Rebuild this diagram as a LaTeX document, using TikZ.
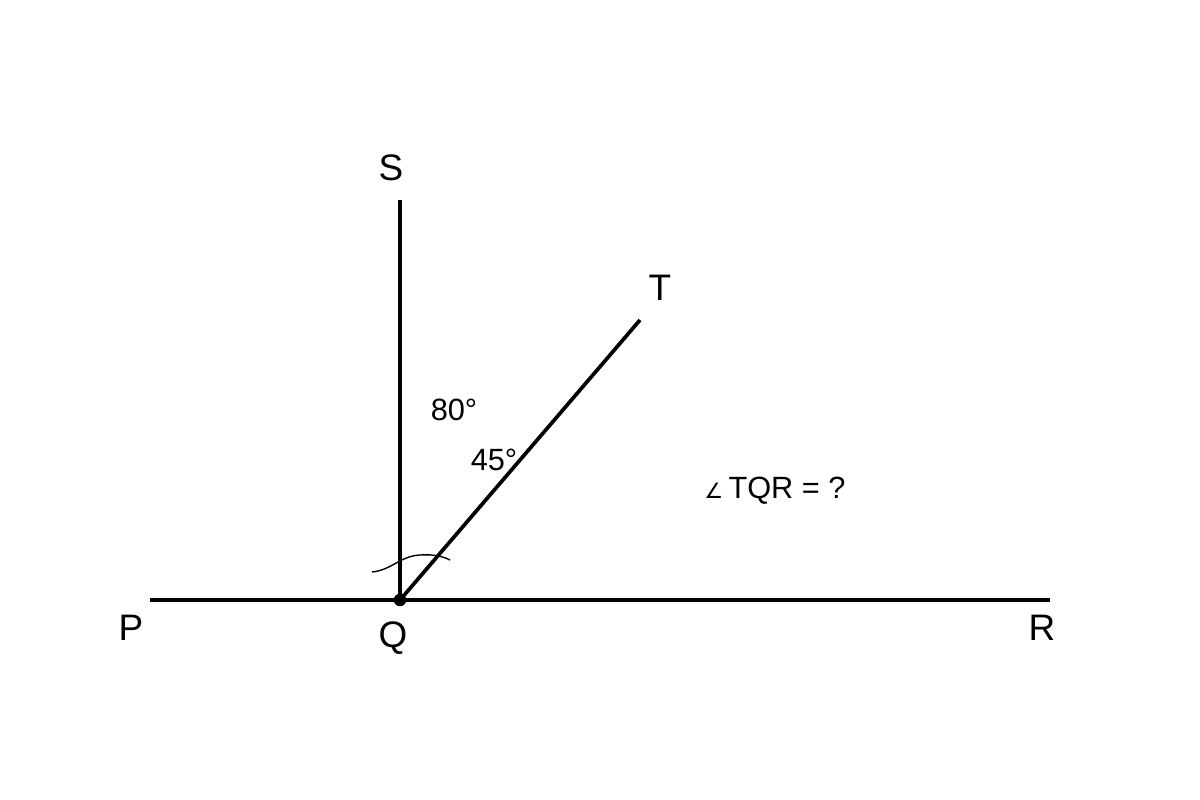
\documentclass[tikz,border=0pt]{standalone}
\usepackage{fontspec}
\setmainfont{Liberation Sans}
\newfontfamily\symfont{DejaVu Sans}
\usepackage{xcolor}

\begin{document}
\begin{tikzpicture}[x=0.02cm,y=-0.02cm,
		lbl/.style={font=\fontsize{21}{25}\selectfont},
		ang/.style={font=\fontsize{17.5}{21}\selectfont}]
		\useasboundingbox (0,0) rectangle (1200,800);
		\begin{scope}
			\coordinate (Q) at (400,600);
			\coordinate (S) at (400,200);
			\coordinate (T) at (640,320);
			\coordinate (P) at (150,600);
			\coordinate (R) at (1050,600);
			\draw [line width=2.1pt] (P) -- (R);
			\draw [line width=2.1pt] (Q) -- (S);
			\draw [line width=2.1pt] (Q) -- (T);
			\fill [black] (Q) circle (0.125cm);
			% arc mark
			\draw [line width=0.8pt] (372,572) .. controls (392,570) and (400,556) .. (420,555) .. controls (435,554) and (444,557) .. (450,560);
			%
			\node [lbl] (labS) at (391,168) {S};
			\node [lbl] (labT) at (660,288) {T};
			\node [lbl] (labP) at (131,628) {P};
			\node [lbl] (labQ) at (393,638) {Q};
			\node [lbl] (labR) at (1042,628) {R};
			\node [ang] (a80) at (454,410) {80°};
			\node [ang] (a45) at (494,460) {45°};
			\node [ang] (ask) at (775,491) {{\symfont\fontsize{12}{14}\selectfont ∠}\,TQR = ?};
		\end{scope}
	\end{tikzpicture}
\end{document}
